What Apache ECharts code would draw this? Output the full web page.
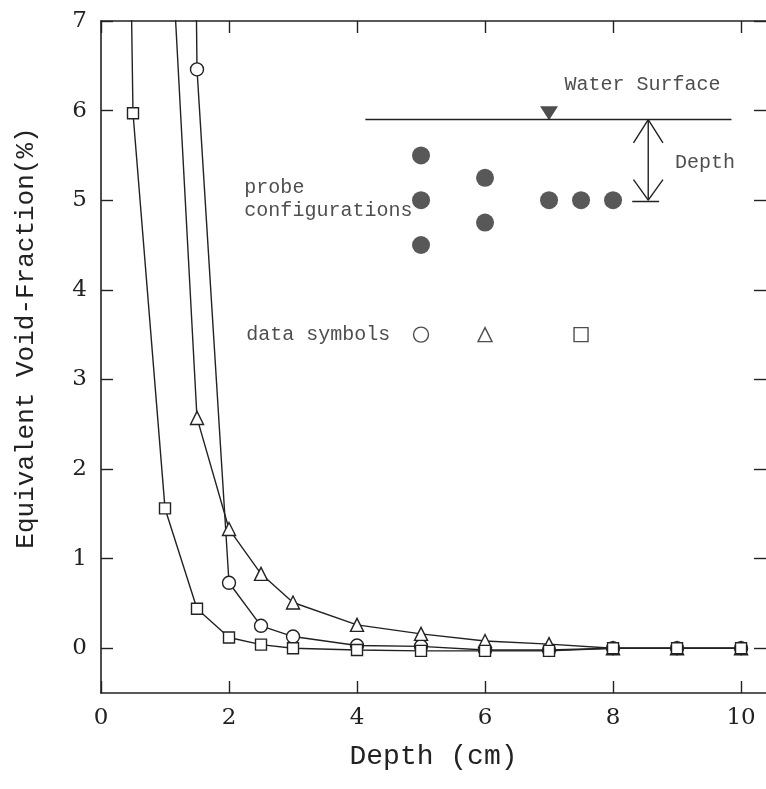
<!DOCTYPE html>
<html>
<head>
<meta charset="utf-8">
<script src="https://cdn.jsdelivr.net/npm/echarts@6/dist/echarts.min.js"></script>
<style>
html,body{margin:0;padding:0;background:#fff;}
#chart{width:766px;height:789px;}
</style>
</head>
<body>
<div id="chart"></div>
<script>
// ---- data (first point of each series lies above the plotted range) ----
const depthCircle   = [1, 1.5, 2, 2.5, 3, 4, 5, 6, 7, 8, 9, 10];
const voidCircle    = [40, 6.46, 0.73, 0.25, 0.13, 0.03, 0.02, -0.02, -0.02, 0, 0, 0];
const depthTriangle = [1, 1.5, 2, 2.5, 3, 4, 5, 6, 7, 8, 9, 10];
const voidTriangle  = [9.2, 2.57, 1.33, 0.83, 0.51, 0.26, 0.16, 0.08, 0.045, 0, 0, 0];
const depthSquare   = [0, 0.5, 1, 1.5, 2, 2.5, 3, 4, 5, 6, 7, 8, 9, 10];
const voidSquare    = [30, 5.97, 1.56, 0.44, 0.12, 0.04, 0, -0.02, -0.03, -0.03, -0.03, 0, 0, 0];

const xTickValues = [0, 2, 4, 6, 8, 10];
const yTickValues = [0, 1, 2, 3, 4, 5, 6, 7];

// ---- inset diagram (data coordinates) ----
const probeDots = [[5, 5.5], [5, 5.0], [5, 4.5], [6, 5.25], [6, 4.75], [7, 5.0], [7.5, 5.0], [8, 5.0]];
const legendSymbols = [[5, 3.5, 'circle'], [6, 3.5, 'triangle'], [7.5, 3.5, 'rect']];
const surfaceLine = [[4.13, 5.9], [9.85, 5.9]];
const surfaceMarker = [[7, 5.97]];
const arrowShaft = [[8.55, 5.9], [8.55, 5.0]];
const arrowHeadTop = [[8.32, 5.64], [8.55, 5.9], [8.78, 5.64]];
const arrowHeadBottom = [[8.32, 5.23], [8.55, 5.0], [8.78, 5.23]];
const arrowBase = [[8.3, 4.985], [8.72, 4.985]];
const notes = [
  [7.24, 6.29, 'Water Surface'],
  [8.97, 5.42, 'Depth'],
  [2.24, 5.14, 'probe'],
  [2.24, 4.88, 'configurations'],
  [2.27, 3.50, 'data symbols']
];

const INK = '#222';
const mono = 'Liberation Mono';
const serif = 'DejaVu Serif';

function pairs(xs, ys) {
  return xs.map((x, i) => {
    const v = [x, ys[i]];
    return i === 0 ? { value: v, symbol: 'none' } : v;
  });
}
function dataSeries(name, xs, ys, symbol, size) {
  return {
    name, type: 'line', data: pairs(xs, ys), symbol, symbolSize: size,
    lineStyle: { color: INK, width: 1.4 },
    itemStyle: { color: '#fff', borderColor: INK, borderWidth: 1.4 },
    z: 3, clip: true, silent: true
  };
}
function plainLine(pts) {
  return {
    type: 'line', data: pts, symbol: 'none', silent: true,
    lineStyle: { color: INK, width: 1.4 }, z: 2
  };
}

const axisLineStyle = { onZero: false, lineStyle: { color: INK, width: 1.6 } };
const tickStyle = { show: true, inside: true, length: 12, lineStyle: { color: INK, width: 1.4 } };

const chart = echarts.init(document.getElementById('chart'), null, { renderer: 'canvas' });
chart.setOption({
  animation: false,
  backgroundColor: '#fff',
  grid: { left: 101, top: 21, right: 0, bottom: 96, containLabel: false },
  xAxis: [{
    type: 'value', min: 0, max: 10.39, interval: 2, position: 'bottom',
    axisLine: axisLineStyle,
    axisTick: Object.assign({ customValues: xTickValues }, tickStyle),
    axisLabel: { customValues: xTickValues, margin: 14, fontSize: 23, fontFamily: serif, color: INK },
    splitLine: { show: false },
    name: 'Depth (cm)', nameLocation: 'middle', nameGap: 50,
    nameTextStyle: { fontSize: 28, fontFamily: mono, color: INK }
  }, {
    type: 'value', min: 0, max: 10.39, interval: 2, position: 'top',
    axisLine: axisLineStyle,
    axisTick: Object.assign({ customValues: xTickValues }, tickStyle),
    axisLabel: { show: false }, splitLine: { show: false }
  }],
  yAxis: [{
    type: 'value', min: -0.5, max: 7, interval: 0.5, position: 'left',
    axisLine: axisLineStyle,
    axisTick: Object.assign({ customValues: yTickValues }, tickStyle),
    axisLabel: { customValues: yTickValues, margin: 14, fontSize: 23, fontFamily: serif, color: INK },
    splitLine: { show: false },
    name: 'Equivalent Void-Fraction(%)', nameLocation: 'middle', nameGap: 62, nameRotate: 90,
    nameTextStyle: { fontSize: 26, fontFamily: mono, color: INK, padding: [0, 0, 0, 38] }
  }, {
    type: 'value', min: -0.5, max: 7, interval: 0.5, position: 'right',
    axisLine: { show: false, onZero: false },
    axisTick: Object.assign({ customValues: yTickValues }, tickStyle),
    axisLabel: { show: false }, splitLine: { show: false }
  }],
  series: [
    dataSeries('circle', depthCircle, voidCircle, 'circle', 13),
    dataSeries('triangle', depthTriangle, voidTriangle, 'triangle', 13),
    dataSeries('square', depthSquare, voidSquare, 'rect', 11),
    plainLine(surfaceLine),
    plainLine(arrowShaft),
    plainLine(arrowHeadTop),
    plainLine(arrowHeadBottom),
    plainLine(arrowBase),
    {
      type: 'scatter', data: surfaceMarker, symbol: 'triangle', symbolRotate: 180,
      symbolSize: [18, 14], itemStyle: { color: INK }, silent: true, z: 4
    },
    {
      type: 'scatter', data: probeDots, symbol: 'circle', symbolSize: 18,
      itemStyle: { color: '#2e2e2e' }, silent: true, z: 4
    },
    {
      type: 'scatter', silent: true, z: 4,
      data: legendSymbols.map(d => ({ value: [d[0], d[1]], symbol: d[2], symbolSize: d[2] === 'circle' ? 15 : 14 })),
      itemStyle: { color: '#fff', borderColor: INK, borderWidth: 1.4 }
    },
    {
      type: 'scatter', silent: true, z: 5, symbolSize: 0,
      data: notes.map(n => ({
        value: [n[0], n[1]],
        label: { show: true, formatter: n[2], position: 'right', distance: 0,
                 fontFamily: mono, fontSize: 20, color: INK }
      }))
    }
  ]
});
</script>
</body>
</html>
